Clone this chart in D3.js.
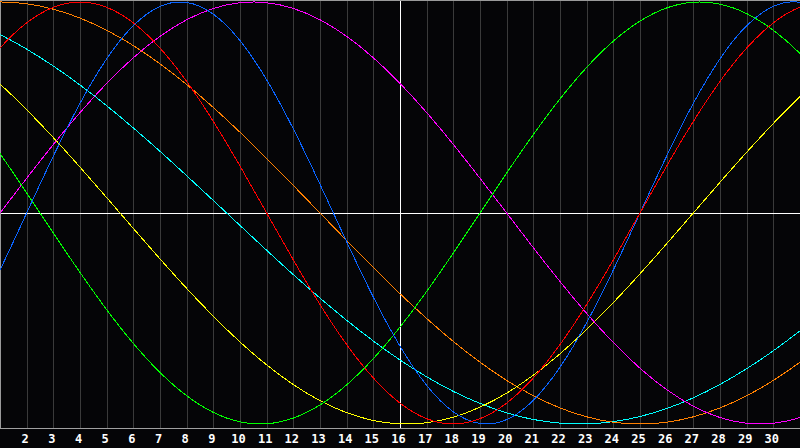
<!DOCTYPE html>
<html><head><meta charset="utf-8">
<script src="https://cdn.jsdelivr.net/npm/d3@7"></script>
<style>html,body{margin:0;padding:0;background:#050507;overflow:hidden}</style>
</head><body>
<svg id="c" width="800" height="448"></svg>
<script>
const days = [0,1,2,3,4,5,6,7,8,9,10,11,12,13,14,15,16,17,18,19,20,21,22,23,24,25,26,27,28,29,30,31,32];
const tickDays = [2,3,4,5,6,7,8,9,10,11,12,13,14,15,16,17,18,19,20,21,22,23,24,25,26,27,28,29,30];
const tickLabels = ["2","3","4","5","6","7","8","9","10","11","12","13","14","15","16","17","18","19","20","21","22","23","24","25","26","27","28","29","30"];

const blueSeries = [-0.5196,-0.2698,0,0.2698,0.5196,0.7308,0.8879,0.9791,0.9977,0.9423,0.8170,0.6311,0.3984,0.1362,-0.1362,-0.3984,-0.6311,-0.8170,-0.9423,-0.9977,-0.9791,-0.8879,-0.7308,-0.5196,-0.2698,0,0.2698,0.5196,0.7308,0.8879,0.9791,0.9977,0.9423];
const redSeries = [0.6235,0.7818,0.9010,0.9749,1,0.9749,0.9010,0.7818,0.6235,0.4339,0.2225,0,-0.2225,-0.4339,-0.6235,-0.7818,-0.9010,-0.9749,-1,-0.9749,-0.9010,-0.7818,-0.6235,-0.4339,-0.2225,0,0.2225,0.4339,0.6235,0.7818,0.9010,0.9749,1];
const greenSeries = [0.4582,0.2817,0.0951,-0.0951,-0.2817,-0.4582,-0.6182,-0.7557,-0.8660,-0.9450,-0.9898,-0.9989,-0.9718,-0.9096,-0.8146,-0.6901,-0.5406,-0.3717,-0.1893,0,0.1893,0.3717,0.5406,0.6901,0.8146,0.9096,0.9718,0.9989,0.9898,0.9450,0.8660,0.7557,0.6182];
const magentaSeries = [-0.1646,0,0.1646,0.3247,0.4759,0.6142,0.7357,0.8372,0.9158,0.9694,0.9966,0.9966,0.9694,0.9158,0.8372,0.7357,0.6142,0.4759,0.3247,0.1646,0,-0.1646,-0.3247,-0.4759,-0.6142,-0.7357,-0.8372,-0.9158,-0.9694,-0.9966,-0.9966,-0.9694,-0.9158];
const yellowSeries = [0.7199,0.6112,0.4894,0.3572,0.2174,0.0730,-0.0730,-0.2174,-0.3572,-0.4894,-0.6112,-0.7199,-0.8133,-0.8894,-0.9464,-0.9834,-0.9993,-0.9940,-0.9675,-0.9203,-0.8536,-0.7687,-0.6673,-0.5517,-0.4245,-0.2881,-0.1456,0,0.1456,0.2881,0.4245,0.5517,0.6673];
const orangeSeries = [0.9914,1,0.9914,0.9659,0.9239,0.8660,0.7934,0.7071,0.6088,0.5,0.3827,0.2588,0.1305,0,-0.1305,-0.2588,-0.3827,-0.5,-0.6088,-0.7071,-0.7934,-0.8660,-0.9239,-0.9659,-0.9914,-1,-0.9914,-0.9659,-0.9239,-0.8660,-0.7934,-0.7071,-0.6088];
const cyanSeries = [0.9024,0.8456,0.7765,0.6966,0.6068,0.5085,0.4031,0.2921,0.1769,0.0592,-0.0592,-0.1769,-0.2921,-0.4031,-0.5085,-0.6068,-0.6966,-0.7765,-0.8456,-0.9024,-0.9473,-0.9786,-0.9960,-0.9996,-0.9890,-0.9646,-0.9267,-0.8757,-0.8125,-0.7378,-0.6528,-0.5586,-0.4566];

const series = [
  {values: cyanSeries, color: "#00ffff"},
  {values: orangeSeries, color: "#ff8000"},
  {values: yellowSeries, color: "#ffff00"},
  {values: magentaSeries, color: "#ff00ff"},
  {values: greenSeries, color: "#00ff00"},
  {values: blueSeries, color: "#0a64ff"},
  {values: redSeries, color: "#ff0000"}
];

const W = 800, H = 448, plotBottom = 428;
const svg = d3.select("#c");
svg.append("rect").attr("width", W).attr("height", H).attr("fill", "#050507");

const x = d3.scaleLinear().domain([1, 31]).range([0, 800]);
const y = d3.scaleLinear().domain([-1, 1]).range([424, 2]);

svg.append("defs").append("clipPath").attr("id", "clip")
  .append("rect").attr("x", 0).attr("y", 0).attr("width", 800).attr("height", plotBottom);

// vertical grid
svg.append("g").selectAll("line").data(tickDays).join("line")
  .attr("x1", d => Math.round(x(d)) + 0.5).attr("x2", d => Math.round(x(d)) + 0.5)
  .attr("y1", 0).attr("y2", plotBottom)
  .attr("stroke", d => d === 16 ? "#ffffff" : "#3a3a3a")
  .attr("stroke-width", 1);

// horizontal zero line
svg.append("line")
  .attr("x1", 0).attr("x2", 800)
  .attr("y1", Math.round(y(0)) + 0.5).attr("y2", Math.round(y(0)) + 0.5)
  .attr("stroke", "#ffffff").attr("stroke-width", 1);

// borders
svg.append("line").attr("x1", 0.5).attr("x2", 0.5).attr("y1", 0).attr("y2", plotBottom).attr("stroke", "#9a9a9a");
svg.append("line").attr("x1", 0).attr("x2", 800).attr("y1", 0.5).attr("y2", 0.5).attr("stroke", "#9a9a9a");
svg.append("line").attr("x1", 0).attr("x2", 800).attr("y1", plotBottom + 0.5).attr("y2", plotBottom + 0.5).attr("stroke", "#a0a0a0");

// curves
const line = d3.line().x((d, i) => x(days[i])).y(d => y(d)).curve(d3.curveNatural);
svg.append("g").attr("clip-path", "url(#clip)")
  .selectAll("path").data(series).join("path")
  .attr("d", s => line(s.values))
  .attr("fill", "none")
  .attr("stroke", s => s.color)
  .attr("stroke-width", 1)
  .attr("shape-rendering", "crispEdges");

// axis labels
const axis = d3.axisBottom(x).tickValues(tickDays).tickFormat((d, i) => tickLabels[i]).tickSize(0).tickPadding(0);
const gAxis = svg.append("g").attr("transform", `translate(-2, ${plotBottom + 6})`).call(axis);
gAxis.select(".domain").remove();
gAxis.selectAll("text")
  .attr("fill", "#ffffff")
  .attr("font-family", "DejaVu Sans Mono")
  .attr("font-weight", "bold")
  .attr("font-size", "12px");
</script>
</body></html>
